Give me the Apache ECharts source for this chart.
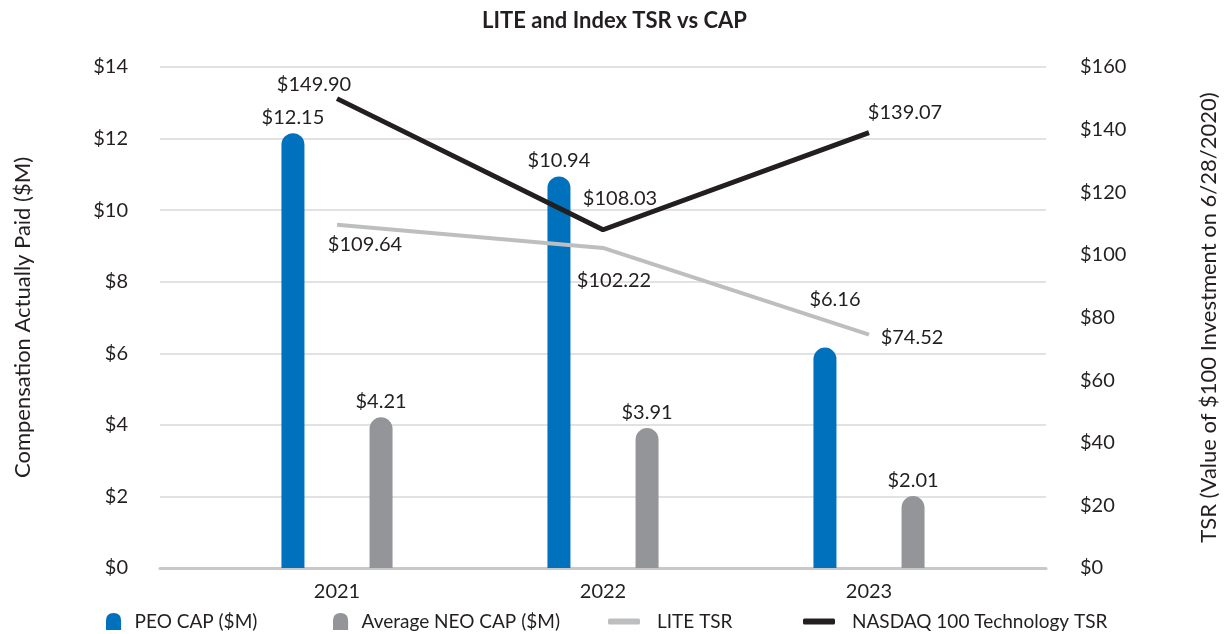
<!DOCTYPE html>
<html><head><meta charset="utf-8">
<script src="https://cdn.jsdelivr.net/npm/echarts@6/dist/echarts.min.js"></script>
<style>html,body{margin:0;padding:0;background:#fff}#c{width:1229px;height:634px}</style>
</head><body><div id="c"></div>
<script>
const categories = ['2021', '2022', '2023'];
const peoCap = [12.15, 10.94, 6.16];
const neoCap = [4.21, 3.91, 2.01];
const liteTsr = [109.64, 102.22, 74.52];
const nasdaqTsr = [149.90, 108.03, 139.07];
const leftTicks = {min: 0, max: 14, interval: 2};
const rightTicks = {min: 0, max: 160, interval: 20};

// label offsets (style, not data)
const peoOffsets = [[0, 0], [0, 0], [10, -32]];
const nasdaqOffsets = [[-23, -14], [17, -31], [36, -20]];
const liteOffsets = [[28, 20], [11, 33], [43, 3]];

const FONT = 'Lato';
const TXT = '#231f20';
const money = v => '$' + Number(v).toFixed(2);

const chart = echarts.init(document.getElementById('c'), null, {renderer: 'canvas'});
const barIcon = 'path://M0,8 Q0,0 8,0 Q16,0 16,8 L16,18 L0,18 Z';

function legendItem(name, left, icon, w, h, gap) {
  return {
    data: [{name: name, icon: icon}], left: left, top: 612,
    itemWidth: w, itemHeight: h, padding: 0,
    textStyle: {fontFamily: FONT, fontSize: 19, color: TXT, padding: [0, 0, 0, gap]},
    selectedMode: false
  };
}

chart.setOption({
  animation: false,
  textStyle: {fontFamily: FONT},
  title: {
    text: 'LITE and Index TSR vs CAP', left: 'center', top: 5,
    textStyle: {fontFamily: FONT, fontSize: 22, fontWeight: 'bold', color: TXT}
  },
  legend: [
    legendItem('PEO CAP ($M)', 106, barIcon, 16, 17, 8),
    legendItem('Average NEO CAP ($M)', 333, barIcon, 16, 17, 8),
    legendItem('LITE TSR', 608, 'roundRect', 32, 6, 12),
    legendItem('NASDAQ 100 Technology TSR', 803, 'roundRect', 32, 6, 12)
  ],
  grid: [
    {left: 160, right: 183, top: 67, bottom: 66},
    {left: 204, right: 227, top: 67, bottom: 66}
  ],
  xAxis: [
    {gridIndex: 0, type: 'category', data: categories,
     axisLine: {lineStyle: {color: '#c8c8c8', width: 3}}, axisTick: {show: false}, axisLabel: {show: false}},
    {gridIndex: 1, type: 'category', data: categories,
     axisLine: {show: false}, axisTick: {show: false},
     axisLabel: {fontFamily: FONT, fontSize: 20, color: TXT, margin: 14}}
  ],
  yAxis: [
    {gridIndex: 0, type: 'value', min: leftTicks.min, max: leftTicks.max, interval: leftTicks.interval,
     name: 'Compensation Actually Paid ($M)', nameLocation: 'middle', nameRotate: 90, nameGap: 126,
     nameTextStyle: {fontFamily: FONT, fontSize: 22, color: TXT},
     axisLine: {show: false}, axisTick: {show: false},
     axisLabel: {fontFamily: FONT, fontSize: 20, color: TXT, margin: 32, padding: [10, 0, 0, 0], formatter: v => '$' + v},
     splitLine: {lineStyle: {color: '#d9d9d9', width: 1.5}}},
    {gridIndex: 0, type: 'value', position: 'right', min: rightTicks.min, max: rightTicks.max, interval: rightTicks.interval,
     name: 'TSR (Value of $100 Investment on 6/28/2020)', nameLocation: 'middle', nameRotate: 90, nameGap: 152,
     nameTextStyle: {fontFamily: FONT, fontSize: 22, color: TXT},
     axisLine: {show: false}, axisTick: {show: false},
     axisLabel: {fontFamily: FONT, fontSize: 20, color: TXT, margin: 34, padding: [10, 0, 0, 0], formatter: v => '$' + v},
     splitLine: {show: false}},
    {gridIndex: 1, type: 'value', min: leftTicks.min, max: leftTicks.max, interval: leftTicks.interval, show: false},
    {gridIndex: 1, type: 'value', min: rightTicks.min, max: rightTicks.max, interval: rightTicks.interval, show: false}
  ],
  series: [
    {name: 'PEO CAP ($M)', type: 'bar', xAxisIndex: 1, yAxisIndex: 2,
     data: peoCap.map((v, i) => ({value: v, label: {offset: peoOffsets[i]}})),
     barWidth: 23, barGap: '283%',
     itemStyle: {color: '#0071bc', borderRadius: [11.5, 11.5, 0, 0]},
     label: {show: true, position: 'top', distance: 6, fontFamily: FONT, fontSize: 20, color: TXT, formatter: p => money(p.value)}},
    {name: 'Average NEO CAP ($M)', type: 'bar', xAxisIndex: 1, yAxisIndex: 2, data: neoCap,
     barWidth: 23, barGap: '283%',
     itemStyle: {color: '#939598', borderRadius: [11.5, 11.5, 0, 0]},
     label: {show: true, position: 'top', distance: 6, fontFamily: FONT, fontSize: 20, color: TXT, formatter: p => money(p.value)}},
    {name: 'LITE TSR', type: 'line', xAxisIndex: 1, yAxisIndex: 3, z: 5,
     data: liteTsr.map((v, i) => ({value: v, label: {offset: liteOffsets[i]}})),
     symbol: 'circle', symbolSize: 0.1, showSymbol: true,
     lineStyle: {color: '#bcbec0', width: 4}, itemStyle: {color: '#bcbec0'},
     label: {show: true, position: 'inside', align: 'center', verticalAlign: 'middle',
             fontFamily: FONT, fontSize: 20, color: TXT, formatter: p => money(p.value)}},
    {name: 'NASDAQ 100 Technology TSR', type: 'line', xAxisIndex: 1, yAxisIndex: 3, z: 6,
     data: nasdaqTsr.map((v, i) => ({value: v, label: {offset: nasdaqOffsets[i]}})),
     symbol: 'circle', symbolSize: 0.1, showSymbol: true,
     lineStyle: {color: '#231f20', width: 5}, itemStyle: {color: '#231f20'},
     label: {show: true, position: 'inside', align: 'center', verticalAlign: 'middle',
             fontFamily: FONT, fontSize: 20, color: TXT, formatter: p => money(p.value)}}
  ]
});
</script></body></html>
